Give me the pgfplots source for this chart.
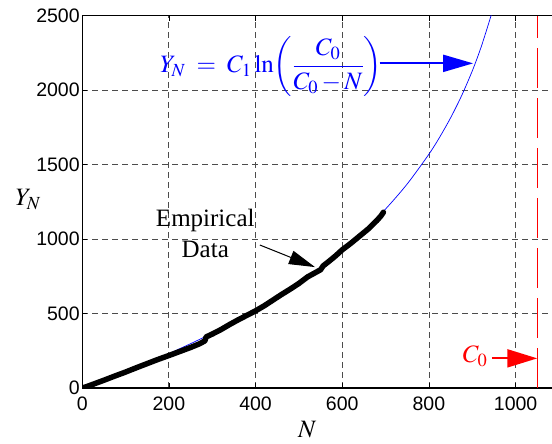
\documentclass[border=0pt]{standalone}
\usepackage{mathptmx}
\usepackage{fontspec}
\setmainfont{Liberation Serif}
\setsansfont{Liberation Sans}
\usepackage{pgfplots}
\pgfplotsset{compat=1.18}
\usetikzlibrary{arrows.meta}

\begin{document}
\begin{tikzpicture}
\begin{axis}[name=ax, scale only axis, width=469.8pt, height=372.3pt,
 xmin=0, xmax=1084, ymin=0, ymax=2500,
 axis x line=box, axis y line=left,
 y axis line style={-}, x axis line style={-},
 axis line style={line width=1.3pt, black},
 xtick={0,200,...,1000}, ytick={0,500,...,2500},
 tick align=inside, major tick length=5pt,
 tick style={black, line width=0.6pt},
 grid=major, major grid style={black!70, dash pattern=on 6pt off 4pt, line width=0.8pt},
 ticklabel style={font=\fontsize{19.5}{20}\sffamily},
 /pgf/number format/assume math mode=true,
 /pgf/number format/1000 sep={},
 xticklabel style={yshift=-5pt},
 yticklabel style={xshift=1pt},
 clip mode=individual,
]
% model curve
\addplot[blue, line width=0.7pt, smooth] coordinates {
(0,0) (50,53.4) (100,109.5) (150,168.6) (200,231.2) (250,297.5) (300,368.1)
(350,443.6) (400,524.6) (450,612.2) (500,707.4) (550,811.7) (600,926.9)
(650,1055.8) (700,1201.9) (750,1370.5) (800,1570.0) (825,1685.3) (850,1814.1)
(875,1960.2) (900,2128.8) (920,2285.5) (940,2468.1) (945,2519.0)};
% empirical data
\addplot[black, line width=5.5pt, line join=round, line cap=round] coordinates {
(0,0) (10,9) (25,25) (50,52) (75,80) (100,107) (125,136) (150,164) (175,192)
(200,218) (225,245) (250,272) (270,296) (283,316) (286,343) (300,362) (320,392)
(340,426) (360,458) (380,488) (400,518) (420,552) (440,590) (460,628) (480,664)
(500,702) (520,746) (540,778) (550,794) (556,820) (570,852) (585,888) (600,928)
(620,972) (640,1020) (660,1068) (680,1125) (690,1158) (695,1180)};
% C0 asymptote
\addplot[red, line width=0.8pt, dash pattern=on 40pt off 10pt] coordinates {(1050,0) (1050,2500)};

% annotations
\node[anchor=base west, blue, inner sep=0pt, font=\fontsize{25}{30}\selectfont]
  at (axis cs:179.5,2120) {$Y_N \;=\; C_1\ln\!\left(\displaystyle\frac{C_0}{C_0-N}\right)$};
\draw[blue, line width=2pt, -{Triangle[length=30pt,width=17pt]}]
  (axis cs:686,2180) -- (axis cs:902,2180);
\node[anchor=base, inner sep=0pt, font=\fontsize{25}{30}\selectfont] at (axis cs:284,1083) {Empirical};
\node[anchor=base, inner sep=0pt, font=\fontsize{25}{30}\selectfont] at (axis cs:284,873) {Data};
\draw[black, line width=1pt, -{Triangle[length=26pt,width=14pt]}]
  (axis cs:410,960) -- (axis cs:537,812);
\node[anchor=base west, red, inner sep=0pt, font=\fontsize{25}{30}\selectfont]
  at (axis cs:878,168) {$C_0$};
\draw[red, line width=2pt, -{Triangle[length=30pt,width=18pt]}]
  (axis cs:945,199) -- (axis cs:1050,199);
\node[font=\fontsize{25}{30}\selectfont] at (axis cs:0,1263) [xshift=-54pt] {$Y_N$};
\node[font=\fontsize{25}{30}\selectfont] at (axis cs:519,0) [yshift=-42pt] {$N$};
\end{axis}
\pgfresetboundingbox
\path (ax.south west) ++(-82.2pt,-56pt) coordinate (bl);
\path (ax.north east) ++(0pt,15.7pt) coordinate (tr);
\useasboundingbox (bl) rectangle (tr);
\end{tikzpicture}
\end{document}
